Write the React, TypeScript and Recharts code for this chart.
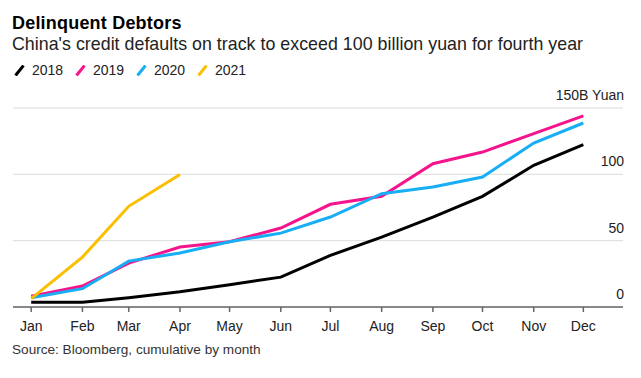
import React from 'react';
import { LineChart, Line, XAxis, YAxis, CartesianGrid } from 'recharts';

const months = ['Jan', 'Feb', 'Mar', 'Apr', 'May', 'Jun', 'Jul', 'Aug', 'Sep', 'Oct', 'Nov', 'Dec'];
// day of year for the first of each month
const monthStart = [0, 31, 59, 90, 120, 151, 181, 212, 243, 273, 304, 334];

const y2018 = [3.5, 3.5, 7, 11.5, 16.8, 22.5, 38.9, 52.7, 67.8, 83.4, 106.8, 122.4];
const y2019 = [8.2, 15.8, 33.1, 45.2, 49.2, 59.5, 77.4, 83.4, 108, 116.8, 130.7, 144];
const y2020 = [7, 13.8, 34.6, 40.7, 49.2, 55.7, 67.8, 85.4, 90.4, 98, 123.6, 138.7];
const y2021 = [6.3, 37.6, 75.9, 99.8];

const yTicks = [0, 50, 100, 150];

const series = [
  { key: 'y2018', label: '2018', color: '#000000' },
  { key: 'y2019', label: '2019', color: '#f5148c' },
  { key: 'y2020', label: '2020', color: '#18aef5' },
  { key: 'y2021', label: '2021', color: '#fbbf00' },
];

const data = months.map((m, i) => ({
  day: monthStart[i],
  y2018: y2018[i],
  y2019: y2019[i],
  y2020: y2020[i],
  y2021: i < y2021.length ? y2021[i] : null,
}));

const font = '"Liberation Sans", Arial, sans-serif';

const MonthTick = (props: any) => {
  const { x, y, payload } = props;
  const idx = monthStart.indexOf(payload.value);
  return (
    <text x={x} y={y + 17} textAnchor="middle" fontSize={14} fill="#222" fontFamily={font}>
      {months[idx]}
    </text>
  );
};

const ValueTick = (props: any) => {
  const { x, y, payload } = props;
  const label = payload.value === 150 ? '150B Yuan' : String(payload.value);
  return (
    <text x={x - 7} y={y - 8} textAnchor="end" fontSize={14} fill="#222" fontFamily={font}>
      {label}
    </text>
  );
};

const App: React.FC = () => {
  return (
    <div style={{ position: 'absolute', left: 0, top: 0, width: 641, height: 378, background: '#fff', fontFamily: font }}>
      <div style={{ position: 'absolute', left: 12, top: 13, fontSize: 18, fontWeight: 700, color: '#000', letterSpacing: 0.2, whiteSpace: 'nowrap' }}>
        Delinquent Debtors
      </div>
      <div style={{ position: 'absolute', left: 12, top: 33.5, fontSize: 17.8, color: '#222', letterSpacing: 0.03, whiteSpace: 'nowrap' }}>
        China's credit defaults on track to exceed 100 billion yuan for fourth year
      </div>
      <div style={{ position: 'absolute', left: 14, top: 62, height: 16, display: 'flex', alignItems: 'center', fontSize: 14, color: '#222' }}>
        {series.map((s) => (
          <div key={s.key} style={{ display: 'flex', alignItems: 'center', width: 61 }}>
            <svg width={11} height={11} style={{ marginRight: 7 }}>
              <line x1={1.5} y1={10.5} x2={9.5} y2={0.5} stroke={s.color} strokeWidth={3} />
            </svg>
            <span>{s.label}</span>
          </div>
        ))}
      </div>
      <div style={{ position: 'absolute', left: 0, top: 0 }}>
        <LineChart width={641} height={378} data={data} margin={{ top: 108, right: 17, bottom: 41, left: 13 }}>
          <CartesianGrid horizontal vertical={false} stroke="#dcdcdc" strokeWidth={1} />
          <XAxis
            dataKey="day"
            type="number"
            domain={[-11, 358]}
            ticks={monthStart}
            tick={<MonthTick />}
            tickSize={5}
            tickLine={{ stroke: '#666', strokeWidth: 1.5 }}
            axisLine={{ stroke: '#888', strokeWidth: 2 }}
            height={30}
            interval={0}
          />
          <YAxis
            orientation="right"
            domain={[0, 150]}
            ticks={yTicks}
            tick={<ValueTick />}
            axisLine={false}
            tickLine={false}
            width={1}
          />
          {series.map((s) => (
            <Line
              key={s.key}
              type="linear"
              dataKey={s.key}
              stroke={s.color}
              strokeWidth={3}
              dot={false}
              isAnimationActive={false}
              connectNulls={false}
            />
          ))}
        </LineChart>
      </div>
      <div style={{ position: 'absolute', left: 12, top: 342, fontSize: 13.6, color: '#333', whiteSpace: 'nowrap' }}>
        Source: Bloomberg, cumulative by month
      </div>
    </div>
  );
};

export default App;
